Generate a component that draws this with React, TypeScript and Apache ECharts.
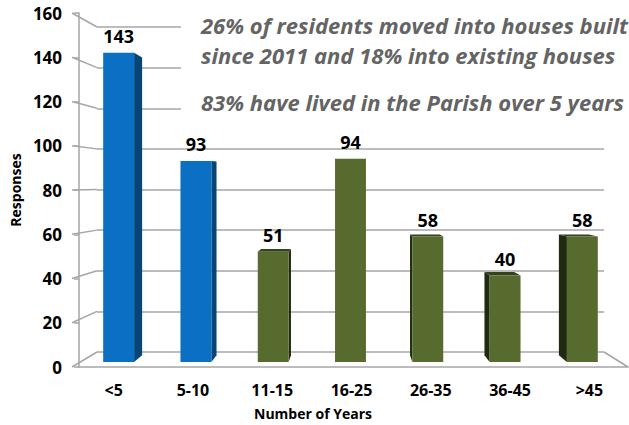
import React, { useEffect, useRef } from "react";
import * as echarts from "echarts";

// ---- data ----
const categories = ["<5", "5-10", "11-15", "16-25", "26-35", "36-45", ">45"];
const responses = [143, 93, 51, 94, 58, 40, 58];
const groups = ["recent", "recent", "settled", "settled", "settled", "settled", "settled"];
const yMin = 0;
const yMax = 160;
const yStep = 20;
const yTicks = [0, 20, 40, 60, 80, 100, 120, 140, 160];
const notes = [
  "26% of residents moved into houses built",
  "since 2011 and 18% into existing houses",
  "83% have lived in the Parish over 5 years",
];
const yTitle = "Responses";
const xTitle = "Number of Years";

// ---- layout ----
const W = 629;
const H = 425;
const FRONT = { left: 72, right: 628, top: 13, bottom: 367 };
const BACK = { left: 97, right: 604, top: 27, bottom: 352 };
const BARS = { left: 80, right: 621, top: 16, bottom: 362 };
const LABELS = { left: 74, right: 632 };

const COLORS: Record<string, { front: string; side: string; top: string }> = {
  recent: { front: "#0B6FC4", side: "#064677", top: "#0A5A9E" },
  settled: { front: "#586B2F", side: "#1F2A10", top: "#34431A" },
};

const FONT = "'Open Sans'";

export default function App() {
  const ref = useRef<HTMLDivElement>(null);

  useEffect(() => {
    document.body.style.margin = "0";
    const chart = echarts.init(ref.current!, null, { renderer: "svg" });

    const frontY = (v: number) =>
      FRONT.bottom - ((v - yMin) / (yMax - yMin)) * (FRONT.bottom - FRONT.top);

    const option: any = {
      animation: false,
      backgroundColor: "#ffffff",
      textStyle: { fontFamily: FONT },
      grid: [
        // 0: front plane (axis + labels)
        { left: FRONT.left, right: W - FRONT.right, top: FRONT.top, bottom: H - FRONT.bottom },
        // 1: back wall
        { left: BACK.left, right: W - BACK.right, top: BACK.top, bottom: H - BACK.bottom },
        // 2: bars plane
        { left: BARS.left, right: W - BARS.right, top: BARS.top, bottom: H - BARS.bottom },
        // 3: category labels
        { left: LABELS.left, right: W - LABELS.right, top: FRONT.top, bottom: H - FRONT.bottom },
      ],
      xAxis: [
        {
          gridIndex: 0, type: "value", min: 0, max: 1,
          axisLine: { show: true, lineStyle: { color: "#a6a6a6", width: 1.5 } },
          axisTick: { show: false }, axisLabel: { show: false }, splitLine: { show: false },
        },
        { gridIndex: 1, type: "value", min: 0, max: 1, show: false },
        { gridIndex: 2, type: "category", data: categories, show: false },
        {
          gridIndex: 3, type: "category", data: categories,
          axisLine: { show: false }, axisTick: { show: false },
          axisLabel: { margin: 15, fontSize: 16, fontWeight: "bold", color: "#000", fontFamily: FONT },
        },
      ],
      yAxis: [
        {
          gridIndex: 0, type: "value", min: yMin, max: yMax, interval: yStep,
          axisLine: { show: true, lineStyle: { color: "#a6a6a6", width: 1.5 } },
          axisTick: { show: true, length: 5, lineStyle: { color: "#a6a6a6", width: 1.5 } },
          axisLabel: { margin: 17, fontSize: 17, fontWeight: "bold", color: "#000", fontFamily: FONT },
          splitLine: { show: false },
          name: yTitle, nameLocation: "middle", nameGap: 57, nameRotate: 90,
          nameTextStyle: { fontSize: 14, fontWeight: "bold", color: "#000", fontFamily: FONT },
        },
        {
          gridIndex: 1, type: "value", min: yMin, max: yMax, interval: yStep,
          axisLine: { show: false }, axisTick: { show: false }, axisLabel: { show: false },
          splitLine: { show: true, lineStyle: { color: "#a6a6a6", width: 1.5 } },
        },
        { gridIndex: 2, type: "value", min: yMin, max: yMax, show: false },
        { gridIndex: 3, type: "value", min: yMin, max: yMax, show: false },
      ],
      series: [
        // diagonal connectors from the front axis to the back wall
        {
          type: "custom",
          xAxisIndex: 1, yAxisIndex: 1,
          data: yTicks.map((v) => [0, v]),
          silent: true,
          z: 1,
          renderItem: (params: any, api: any) => {
            const v = api.value(1);
            const p = api.coord([0, v]);
            return {
              type: "line",
              shape: { x1: FRONT.left, y1: frontY(v), x2: p[0], y2: p[1] },
              style: { stroke: "#a6a6a6", lineWidth: 1.5 },
            };
          },
        },
        // right floor edge
        {
          type: "custom",
          xAxisIndex: 1, yAxisIndex: 1,
          data: [[1, yMin]],
          silent: true,
          z: 1,
          renderItem: (params: any, api: any) => {
            const p = api.coord([1, yMin]);
            return {
              type: "line",
              shape: { x1: p[0], y1: p[1], x2: FRONT.right, y2: frontY(yMin) },
              style: { stroke: "#a6a6a6", lineWidth: 1.5 },
            };
          },
        },
        // 3D-looking bars
        {
          type: "custom",
          xAxisIndex: 2, yAxisIndex: 2,
          data: responses.map((v, i) => [i, v]),
          z: 3,
          renderItem: (params: any, api: any) => {
            const i = api.value(0);
            const v = api.value(1);
            const cs = params.coordSys;
            const vpx = cs.x + cs.width / 2;
            const vpy = cs.y + cs.height * 0.47;
            const k = 0.037;
            const back = (x: number, y: number) => [x + (vpx - x) * k, y + (vpy - y) * k];
            const top = api.coord([i, v]);
            const base = api.coord([i, 0]);
            const band = api.size([1, 0])[0];
            const w = band * 0.4;
            const xl = top[0] - w / 2;
            const xr = top[0] + w / 2;
            const ty = top[1];
            const by = base[1];
            const c = COLORS[groups[i]];
            const children: any[] = [];
            if (xr < vpx - 1) {
              children.push({
                type: "polygon",
                shape: { points: [[xr, ty], back(xr, ty), back(xr, by), [xr, by]] },
                style: { fill: c.side },
              });
            } else if (xl > vpx + 1) {
              children.push({
                type: "polygon",
                shape: { points: [[xl, ty], back(xl, ty), back(xl, by), [xl, by]] },
                style: { fill: c.side },
              });
            }
            if (ty > vpy) {
              children.push({
                type: "polygon",
                shape: { points: [[xl, ty], [xr, ty], back(xr, ty), back(xl, ty)] },
                style: { fill: c.top },
              });
            }
            children.push({
              type: "rect",
              shape: { x: xl, y: ty, width: w, height: by - ty },
              style: { fill: c.front },
            });
            children.push({
              type: "text",
              style: {
                text: String(v),
                x: top[0],
                y: ty - 8,
                align: "center",
                verticalAlign: "bottom",
                font: `bold 18px ${FONT}`,
                fill: "#000",
              },
            });
            return { type: "group", children };
          },
        },
      ],
      graphic: [
        {
          type: "rect",
          left: 181,
          top: 0,
          z: 10,
          shape: { width: W - 181, height: 122 },
          style: { fill: "#ffffff" },
        },
        ...notes.map((t, j) => ({
          type: "text",
          x: 201,
          y: [25, 55, 102][j],
          z: 11,
          style: {
            text: t,
            font: `italic bold 22px ${FONT}`,
            fill: "#646464",
            verticalAlign: "middle",
          },
        })),
        {
          type: "text",
          x: 313,
          y: 413,
          z: 11,
          style: {
            text: xTitle,
            font: `bold 14px ${FONT}`,
            fill: "#000",
            align: "center",
            verticalAlign: "middle",
          },
        },
      ],
    };

    chart.setOption(option);
    return () => chart.dispose();
  }, []);

  return (
    <div
      ref={ref}
      style={{ position: "fixed", left: 0, top: 0, width: W, height: H }}
    />
  );
}
